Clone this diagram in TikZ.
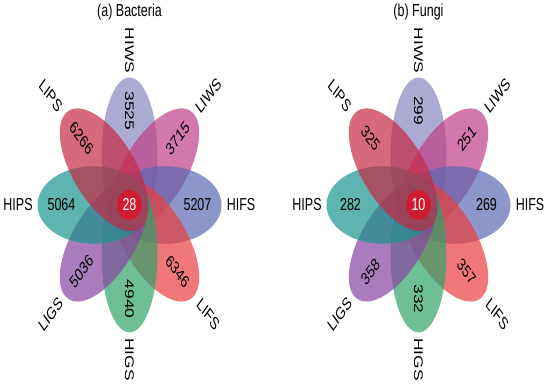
\documentclass[tikz,border=0pt]{standalone}
\usepackage{fontspec}
\setmainfont{Liberation Sans}
\usepackage{xcolor}
\usepackage{tikz}

\definecolor{colHIFS}{RGB}{91,105,176}
\definecolor{colLIWS}{RGB}{191,62,134}
\definecolor{colHIWS}{RGB}{134,134,191}
\definecolor{colLIPS}{RGB}{198,41,69}
\definecolor{colHIPS}{RGB}{26,148,141}
\definecolor{colLIGS}{RGB}{134,69,162}
\definecolor{colHIGS}{RGB}{48,162,105}
\definecolor{colLIFS}{RGB}{233,62,62}
\definecolor{colCore}{RGB}{208,28,48}

\def\cxa{129.5}
\def\cxb{418.5}
\def\cy{130.7}
\def\petalA{56}
\def\petalB{28}
\def\petalD{36}
\def\numR{68}
\def\labR{111.5}

\begin{document}
\begin{tikzpicture}[
    x=1pt, y=1pt, yscale=1.385, transform shape,
    petal/.style={fill opacity=0.7},
    core/.style={fill=colCore},
    every node/.style={inner sep=0pt, font=\fontsize{12.5}{14}\selectfont},
    num/.style={text=black},
    lab/.style={text=black}
]
\useasboundingbox (0,0) rectangle (550,278.7);

% petals
\foreach \ang/\set in {90/HIWS, 45/LIWS, 0/HIFS, 315/LIFS, 270/HIGS, 225/LIGS, 180/HIPS, 135/LIPS}{
  \foreach \cx in {\cxa,\cxb}{
    \fill[petal, fill=col\set, rotate around={\ang:(\cx,\cy)}]
      (\cx+\petalD,\cy) ellipse [x radius=\petalA, y radius=\petalB];
  }
}

% centre
\fill[core] (\cxa,\cy) ellipse [x radius=12.5, y radius=10.8];
\fill[core] (\cxb,\cy) ellipse [x radius=12.5, y radius=10.8];
\node[text=white] (a-core) at (\cxa,\cy) {28};
\node[text=white] (b-core) at (\cxb,\cy) {10};

% counts and set names
\foreach \ang/\set/\rot/\na/\nb in {0/HIFS/0/5207/269, 45/LIWS/45/3715/251,
    90/HIWS/-90/3525/299, 135/LIPS/-45/6266/325, 180/HIPS/0/5064/282,
    225/LIGS/45/5036/358, 270/HIGS/-90/4940/332, 315/LIFS/-45/6346/357}{
  \node[num, rotate=\rot] (a-\set) at ([shift={(\cxa,\cy)}]\ang:\numR) {\na};
  \node[num, rotate=\rot] (b-\set) at ([shift={(\cxb,\cy)}]\ang:\numR) {\nb};
  \node[lab, rotate=\rot] (a-\set-lab) at ([shift={(\cxa,\cy)}]\ang:\labR) {\set};
  \node[lab, rotate=\rot] (b-\set-lab) at ([shift={(\cxb,\cy)}]\ang:\labR) {\set};
}

% titles
\node (a-title) at (\cxa,270) {(a) Bacteria};
\node (b-title) at (\cxb,270) {(b) Fungi};
\end{tikzpicture}
\end{document}
